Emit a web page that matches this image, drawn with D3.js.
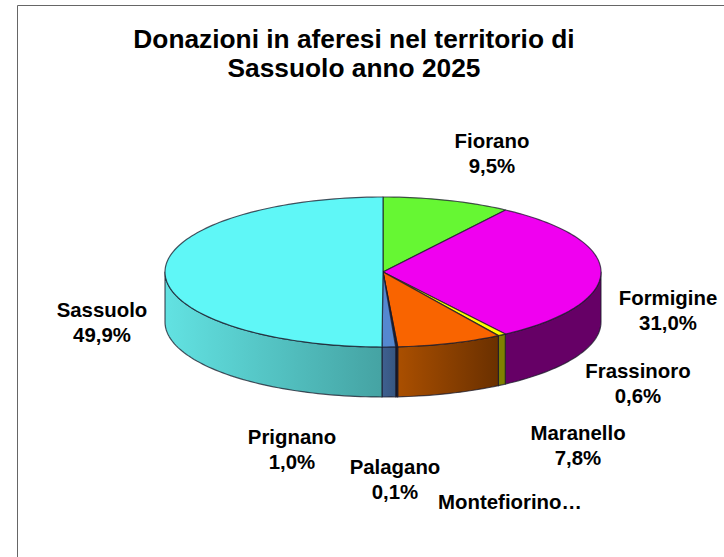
<!DOCTYPE html>
<html><head><meta charset="utf-8">
<script src="https://cdn.jsdelivr.net/npm/d3@7"></script>
<style>html,body{margin:0;padding:0;background:#fff}svg{display:block}text{font-family:"Liberation Sans",Arial,sans-serif;font-weight:bold;fill:#000;text-anchor:middle}</style>
</head><body><script>
const categories = ["Fiorano","Formigine","Frassinoro","Maranello","Montefiorino","Palagano","Prignano","Sassuolo"];
const values = [9.5,31.0,0.6,7.8,0.05,0.1,1.0,49.9];
const valueLabels = ["9,5%","31,0%","0,6%","7,8%","","0,1%","1,0%","49,9%"];
const displayNames = ["Fiorano","Formigine","Frassinoro","Maranello","Montefiorino…","Palagano","Prignano","Sassuolo"];
const titleLines = ["Donazioni in aferesi nel territorio di","Sassuolo anno 2025"];
const topColors = ["#66f733","#f000f0","#ffff00","#f96400","#333333","#1a1a33","#5588d0","#5ff7f7"];
const sideFrom = ["#66f733","#660066","#808000","#aa4f00","#222222","#111122","#3f6090","#62e2e2"];
const sideTo = ["#66f733","#660066","#808000","#6a3000","#222222","#111122","#365680","#45a3a3"];
const labelCenters = [[492,141],[668,298],[638,371],[578,433],[510,502],[395,467],[292,437],[102,310]];

const W=724,H=557,cx=383,cy=272,rx=218,ry=75,depth=50;
const svg=d3.select("body").append("svg").attr("width",W).attr("height",H);
const defs=svg.append("defs");
svg.append("path").attr("d",`M17.5,${H}V5.5H${W}`).attr("fill","none").attr("stroke","#666").attr("stroke-width",1);

const arcs=d3.pie().sort(null)(values);
const px=a=>cx+rx*Math.sin(a), py=a=>cy-ry*Math.cos(a);
const sample=(a0,a1)=>{const n=Math.max(2,Math.ceil(Math.abs(a1-a0)*40));return d3.range(n+1).map(i=>a0+(a1-a0)*i/n);};
const line=d3.line();
const stroke="#1a1a2a";

// front walls: only the lower half of the ellipse is visible
const HP=Math.PI/2, EP=3*Math.PI/2;
arcs.forEach((d,i)=>{
  const a0=Math.max(d.startAngle,HP), a1=Math.min(d.endAngle,EP);
  if(a1<=a0) return;
  const id="g"+i;
  const xs=[px(a0),px(a1)];
  const grad=defs.append("linearGradient").attr("id",id).attr("gradientUnits","userSpaceOnUse")
    .attr("x1",d3.min(xs)).attr("x2",d3.max(xs)).attr("y1",0).attr("y2",0);
  grad.append("stop").attr("offset",0).attr("stop-color",sideFrom[i]==sideTo[i]?sideFrom[i]:(xs[0]<xs[1]?sideTo[i]:sideFrom[i]));
  grad.append("stop").attr("offset",1).attr("stop-color",xs[0]<xs[1]?sideFrom[i]:sideTo[i]);
  const as=sample(a0,a1);
  const pts=as.map(a=>[px(a),py(a)]).concat(as.slice().reverse().map(a=>[px(a),py(a)+depth]));
  svg.append("path").attr("d",line(pts)+"Z").attr("fill",`url(#${id})`).attr("stroke",stroke).attr("stroke-opacity",.75).attr("stroke-width",1.2).attr("stroke-linejoin","round");
});
// top faces
arcs.forEach((d,i)=>{
  const pts=[[cx,cy]].concat(sample(d.startAngle,d.endAngle).map(a=>[px(a),py(a)]));
  svg.append("path").attr("d",line(pts)+"Z").attr("fill",topColors[i]).attr("stroke",stroke).attr("stroke-opacity",.75).attr("stroke-width",1.2).attr("stroke-linejoin","round");
});
// title
svg.selectAll("text.t").data(titleLines).join("text").attr("class","t").attr("x",354).attr("y",(d,i)=>48+i*29).attr("font-size",26.3).text(d=>d);
// labels
categories.forEach((c,i)=>{
  const [x,y]=labelCenters[i];
  svg.append("text").attr("x",x).attr("y",y+6.5).attr("font-size",20.4).text(displayNames[i]);
  if(valueLabels[i]) svg.append("text").attr("x",x).attr("y",y+31.5).attr("font-size",20.4).text(valueLabels[i]);
});
</script></body></html>
